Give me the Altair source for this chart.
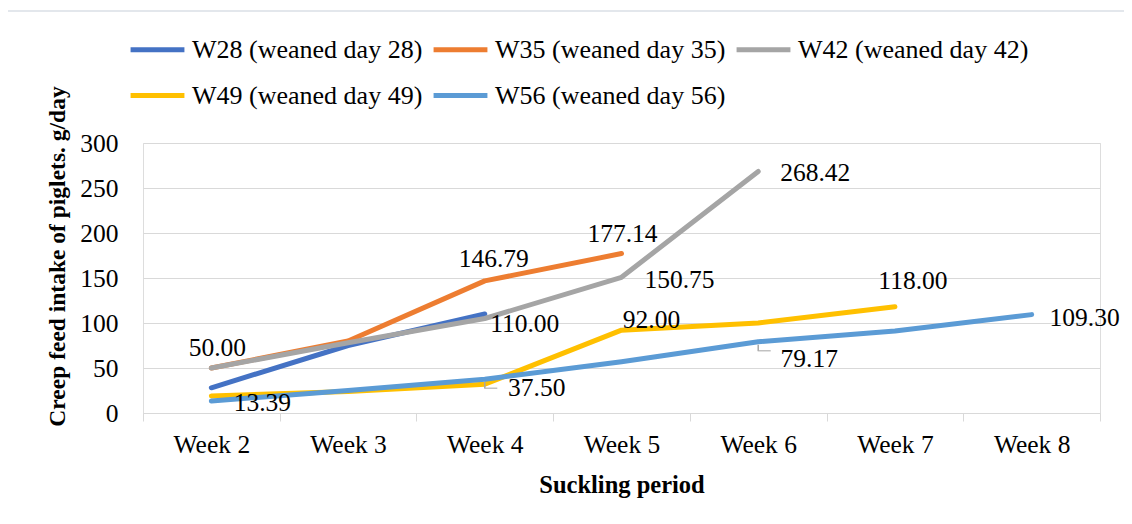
import altair as alt
import pandas as pd

weeks = ["Week 2", "Week 3", "Week 4", "Week 5", "Week 6", "Week 7", "Week 8"]
series_names = [
    "W28 (weaned day 28)",
    "W35 (weaned day 35)",
    "W42 (weaned day 42)",
    "W49 (weaned day 49)",
    "W56 (weaned day 56)",
]
w28 = [28, 75, 110.00]
w35 = [50.00, 80, 146.79, 177.14]
w42 = [50.00, 78, 105, 150.75, 268.42]
w49 = [19, 24, 32, 92.00, 100, 118.00]
w56 = [13.39, 25, 37.50, 57, 79.17, 91, 109.30]
colors = ["#4472C4", "#ED7D31", "#A5A5A5", "#FFC000", "#5B9BD5"]

all_series = [w28, w35, w42, w49, w56]
rows = []
for name, vals in zip(series_names, all_series):
    for i, v in enumerate(vals):
        rows.append({"series": name, "week": weeks[i], "value": v})
df = pd.DataFrame(rows)

# labelled points: (series index, week index)
labelled = [(2, 0), (4, 0), (1, 2), (0, 2), (4, 2), (1, 3), (2, 3), (3, 3),
            (2, 4), (4, 4), (3, 5), (4, 6)]
# styling: label offsets (dx, dy) in pixels
label_offsets = [(6, -20), (51, 2), (9, -22), (40, 10), (52, 9), (1, -20),
                 (58, 3), (30, -10), (57, 2), (51, 17), (18, -26), (53, 3)]
leaders = [(4, 2), (4, 4)]

FONT = "Liberation Serif"
GRID = "#D9D9D9"
FS = 25.5

x_enc = alt.X(
    "week:N",
    bandPosition=0.5,
    scale=alt.Scale(type="band", domain=weeks, paddingInner=0, paddingOuter=0),
    axis=alt.Axis(
        title="Suckling period",
        labelAngle=0,
        tickBand="extent",
        grid=False,
        domainColor=GRID,
        tickColor=GRID,
        tickSize=8,
        labelPadding=11,
        labelFont=FONT,
        labelFontSize=FS,
        labelColor="black",
        titleFont=FONT,
        titleFontSize=24.5,
        titleFontWeight="bold",
        titleColor="black",
        titlePadding=16,
    ),
)
y_enc = alt.Y(
    "value:Q",
    scale=alt.Scale(domain=[0, 300], nice=False),
    axis=alt.Axis(
        title="Creep feed intake of piglets. g/day",
        values=[0, 50, 100, 150, 200, 250, 300],
        domain=False,
        ticks=False,
        gridColor=GRID,
        labelPadding=25,
        labelFont=FONT,
        labelFontSize=FS,
        labelColor="black",
        titleFont=FONT,
        titleFontSize=23.5,
        titleFontWeight="bold",
        titleColor="black",
        titleX=-86,
        titleY=113,
        titleAngle=270,
        titleAlign="center",
        titleBaseline="middle",
    ),
)

lines = alt.Chart(df).mark_line(
    strokeWidth=5, strokeCap="round", strokeJoin="round"
).encode(
    x=x_enc,
    y=y_enc,
    color=alt.Color(
        "series:N",
        scale=alt.Scale(domain=series_names, range=colors),
        legend=alt.Legend(
            title=None,
            orient="none",
            direction="horizontal",
            legendX=-15,
            legendY=-123,
            columns=3,
            symbolType="stroke",
            symbolSize=2900,
            symbolStrokeWidth=5,
            labelFont=FONT,
            labelFontSize=26,
            labelColor="black",
            labelLimit=500,
            labelOffset=5,
            columnPadding=0,
            rowPadding=3,
        ),
    ),
)

layers = []
border = alt.Chart(df).mark_rect(filled=False, stroke="#E3E7EC", strokeWidth=2).encode(
    x=alt.value(-137), x2=alt.value(992), y=alt.value(-132), y2=alt.value(400)
)
layers.append(border)
layers.append(lines)

for (si, wi), (dx, dy) in zip(labelled, label_offsets):
    v = all_series[si][wi]
    ldf = pd.DataFrame([{"series": series_names[si], "week": weeks[wi],
                         "value": v, "label": f"{v:.2f}"}])
    layers.append(
        alt.Chart(ldf).mark_text(
            font=FONT, fontSize=FS, color="black", dx=dx, dy=dy,
            align="center", baseline="middle"
        ).encode(x=x_enc, y=y_enc, text="label:N")
    )

for si, wi in leaders:
    v = all_series[si][wi]
    ldf = pd.DataFrame([{"series": series_names[si], "week": weeks[wi], "value": v}])
    layers.append(
        alt.Chart(ldf).mark_rule(color="#A6A6A6", strokeWidth=1.5, yOffset=3, y2Offset=9).encode(
            x=x_enc, y=y_enc, y2=alt.Y2("value:Q")
        )
    )
    layers.append(
        alt.Chart(ldf).mark_tick(color="#A6A6A6", orient="horizontal", size=13,
                                 thickness=1.5, xOffset=6, yOffset=9).encode(
            x=x_enc, y=y_enc
        )
    )

chart = alt.layer(*layers).properties(
    width=957,
    height=270,
    autosize=alt.AutoSizeParams(type="none"),
    padding={"left": 135, "top": 135, "right": 24, "bottom": 95},
).configure_view(stroke=None).configure(background="white")

chart.save("out.html", embed_options={"renderer": "svg", "actions": False})
